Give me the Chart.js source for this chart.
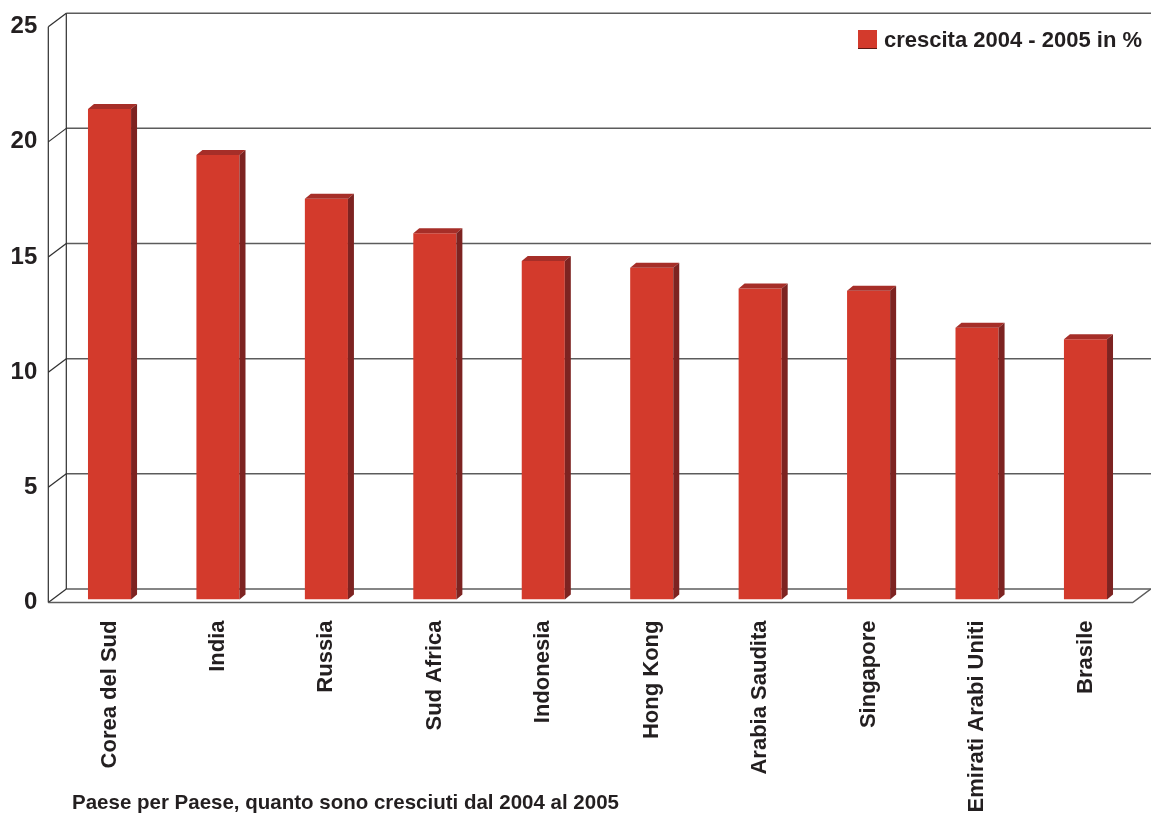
<!DOCTYPE html>
<html>
<head>
<meta charset="utf-8">
<title>Crescita 2004 - 2005</title>
<script src="https://cdn.jsdelivr.net/npm/chart.js@4.4.0/dist/chart.umd.min.js"></script>
<style>
    html, body { margin: 0; padding: 0; background: #fff; }
    #wrap { position: relative; width: 1151px; height: 818px; }
</style>
</head>
<body>
<div id="wrap"><canvas id="growthChart"></canvas></div>
<script>
'use strict';

var countries = ['Corea del Sud', 'India', 'Russia', 'Sud Africa', 'Indonesia',
    'Hong Kong', 'Arabia Saudita', 'Singapore', 'Emirati Arabi Uniti', 'Brasile'];
var growth = [21.3, 19.3, 17.4, 15.9, 14.7, 14.4, 13.5, 13.4, 11.8, 11.3];
var yTicks = [0, 5, 10, 15, 20, 25];
var seriesLabel = 'crescita 2004 - 2005 in %';
var footNote = 'Paese per Paese, quanto sono cresciuti dal 2004 al 2005';

var barFront = '#d33a2c';
var barTop = '#a62e28';
var barSide = '#7d2321';
var textColor = '#231f20';
var fontFamily = '"Liberation Sans", Arial, sans-serif';

// 3D look: depth of the walls and of each bar
var wallDx = 18, wallDy = 13.5;
var barDx = 6, barDy = 5;

var frame3d = {
    id: 'frame3d',
    beforeDatasetsDraw: function (chart) {
        var ctx = chart.ctx, area = chart.chartArea, y = chart.scales.y;
        var frontL = area.left - 7, frontR = area.right - 7;
        var backL = frontL + wallDx;
        ctx.save();
        yTicks.forEach(function (v) {
            var fy = y.getPixelForValue(v) + 3;
            var by = fy - wallDy;
            // back wall grid line
            ctx.strokeStyle = '#5c5c5c';
            ctx.lineWidth = 1.5;
            ctx.beginPath();
            ctx.moveTo(backL, by);
            ctx.lineTo(chart.width, by);
            ctx.stroke();
            // side wall diagonal
            ctx.strokeStyle = '#2e2e2e';
            ctx.lineWidth = 1.2;
            ctx.beginPath();
            ctx.moveTo(frontL, fy);
            ctx.lineTo(backL, by);
            ctx.stroke();
        });
        var top = y.getPixelForValue(25) + 3, bottom = y.getPixelForValue(0) + 3;
        ctx.strokeStyle = '#2e2e2e';
        ctx.lineWidth = 1.2;
        ctx.beginPath();
        ctx.moveTo(frontL, top);
        ctx.lineTo(frontL, bottom);
        ctx.moveTo(backL, top - wallDy);
        ctx.lineTo(backL, bottom - wallDy);
        ctx.stroke();
        // floor front edge
        ctx.strokeStyle = '#5c5c5c';
        ctx.lineWidth = 1.5;
        ctx.beginPath();
        ctx.moveTo(frontL, bottom);
        ctx.lineTo(frontR, bottom);
        ctx.lineTo(frontR + wallDx, bottom - wallDy);
        ctx.stroke();
        ctx.restore();
    },
    afterDatasetsDraw: function (chart) {
        var ctx = chart.ctx;
        ctx.save();
        chart.getDatasetMeta(0).data.forEach(function (bar) {
            var l = bar.x - bar.width / 2, r = bar.x + bar.width / 2;
            ctx.fillStyle = barTop;
            ctx.beginPath();
            ctx.moveTo(l, bar.y);
            ctx.lineTo(r, bar.y);
            ctx.lineTo(r + barDx, bar.y - barDy);
            ctx.lineTo(l + barDx, bar.y - barDy);
            ctx.closePath();
            ctx.fill();
            ctx.fillStyle = barSide;
            ctx.beginPath();
            ctx.moveTo(r, bar.y);
            ctx.lineTo(r + barDx, bar.y - barDy);
            ctx.lineTo(r + barDx, bar.base - barDy);
            ctx.lineTo(r, bar.base);
            ctx.closePath();
            ctx.fill();
        });
        ctx.restore();
    },
    afterDraw: function (chart) {
        var ctx = chart.ctx;
        ctx.save();
        // legend
        ctx.fillStyle = barFront;
        ctx.fillRect(858, 30, 19, 18);
        ctx.strokeStyle = '#5a1a16';
        ctx.lineWidth = 1;
        ctx.beginPath();
        ctx.moveTo(858, 48.5);
        ctx.lineTo(877, 48.5);
        ctx.stroke();
        ctx.fillStyle = textColor;
        ctx.font = 'bold 22px ' + fontFamily;
        ctx.textBaseline = 'alphabetic';
        ctx.textAlign = 'left';
        ctx.fillText(seriesLabel, 884, 47);
        // note under the chart
        ctx.font = 'bold 20.5px ' + fontFamily;
        ctx.fillText(footNote, 72, 809);
        ctx.restore();
    }
};

var growthChart = new Chart(document.getElementById('growthChart'), {
    type: 'bar',
    data: {
        labels: countries,
        datasets: [{
            label: seriesLabel,
            data: growth,
            backgroundColor: barFront,
            borderWidth: 0,
            barPercentage: 0.8,
            categoryPercentage: 0.4965
        }]
    },
    options: {
        responsive: true,
        maintainAspectRatio: false,
        animation: false,
        layout: { padding: { top: 23.7, right: 11.3, left: 0, bottom: 0 } },
        plugins: {
            legend: { display: false },
            tooltip: { enabled: false }
        },
        scales: {
            x: {
                grid: { display: false, drawTicks: false },
                border: { display: false },
                afterFit: function (scale) {
                    scale.height = 218.5;
                    scale.paddingLeft = 0;
                    scale.paddingRight = 0;
                },
                ticks: {
                    autoSkip: false,
                    minRotation: 90,
                    maxRotation: 90,
                    padding: 21,
                    color: textColor,
                    font: { family: fontFamily, size: 22, weight: 'bold' }
                }
            },
            y: {
                min: 0,
                max: 25,
                grid: { display: false, drawTicks: false },
                border: { display: false },
                afterFit: function (scale) {
                    scale.width = 55.3;
                    scale.paddingTop = 0;
                    scale.paddingBottom = 0;
                },
                ticks: {
                    stepSize: 5,
                    padding: 18,
                    labelOffset: 3,
                    color: textColor,
                    font: { family: fontFamily, size: 24, weight: 'bold' }
                }
            }
        }
    },
    plugins: [frame3d]
});
</script>
</body>
</html>
